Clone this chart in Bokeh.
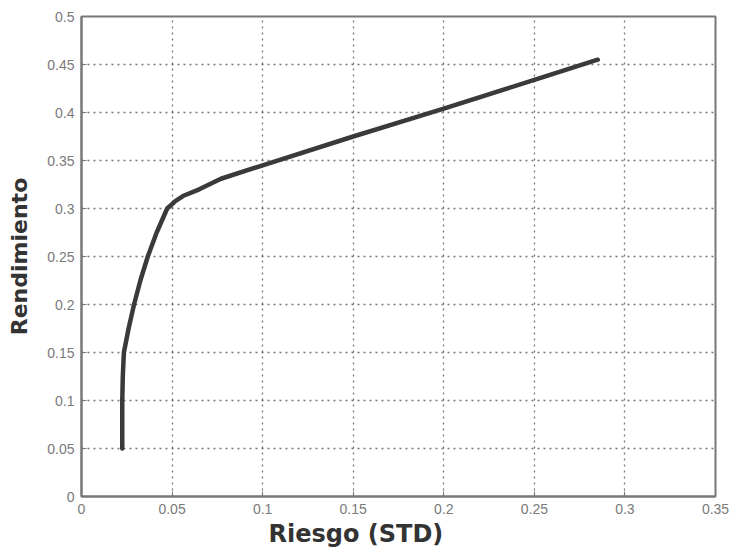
from bokeh.plotting import figure
from bokeh.models import Range1d, FixedTicker, Title
from bokeh.embed import file_html
from bokeh.resources import INLINE

# Efficient frontier (risk STD vs return)
riesgo = [0.0225, 0.0225, 0.0228, 0.0234, 0.0260, 0.0290, 0.0325, 0.0366, 0.0415,
          0.0473, 0.0520, 0.0560, 0.0650, 0.0770, 0.1000, 0.1500, 0.2000, 0.2500, 0.2850]
rendimiento = [0.050, 0.100, 0.125, 0.150, 0.175, 0.200, 0.225, 0.250, 0.275,
               0.300, 0.308, 0.313, 0.320, 0.331, 0.345, 0.375, 0.404, 0.434, 0.455]

x_ticks = [0, 0.05, 0.1, 0.15, 0.2, 0.25, 0.3, 0.35]
x_tick_labels = ["0", "0.05", "0.1", "0.15", "0.2", "0.25", "0.3", "0.35"]
y_ticks = [0, 0.05, 0.1, 0.15, 0.2, 0.25, 0.3, 0.35, 0.4, 0.45, 0.5]
y_tick_labels = ["0", "0.05", "0.1", "0.15", "0.2", "0.25", "0.3", "0.35", "0.4", "0.45", "0.5"]

x_title = "Riesgo (STD)"
y_title = "Rendimiento"

p = figure(width=730, height=550, output_backend="svg", toolbar_location=None,
           x_range=Range1d(0, 0.35), y_range=Range1d(0, 0.5),
           min_border_left=81, min_border_right=15, min_border_top=16, min_border_bottom=54)

p.line(riesgo, rendimiento, line_color="#3a3a3a", line_width=4.5, line_cap="round")

for ax in p.axis:
    ax.axis_line_color = "#777777"
    ax.axis_line_width = 2
    ax.major_tick_in = 5
    ax.major_tick_out = 0
    ax.major_tick_line_color = "#777777"
    ax.minor_tick_line_color = None
    ax.major_label_text_font = "Liberation Sans"
    ax.major_label_text_font_size = "14px"
    ax.major_label_text_color = "#7a7a7a"
    ax.major_label_standoff = 7

p.xaxis[0].ticker = FixedTicker(ticks=x_ticks)
p.xaxis[0].major_label_overrides = {t: l for t, l in zip(x_ticks, x_tick_labels)}
p.yaxis[0].ticker = FixedTicker(ticks=y_ticks)
p.yaxis[0].major_label_overrides = {t: l for t, l in zip(y_ticks, y_tick_labels)}

p.yaxis[0].axis_label = y_title
p.yaxis[0].axis_label_text_font = "DejaVu Sans"
p.yaxis[0].axis_label_text_font_size = "22px"
p.yaxis[0].axis_label_text_font_style = "bold"
p.yaxis[0].axis_label_text_color = "#333333"
p.yaxis[0].axis_label_standoff = 12

p.outline_line_color = "#777777"
p.outline_line_width = 2

p.xgrid[0].ticker = FixedTicker(ticks=x_ticks)
p.ygrid[0].ticker = FixedTicker(ticks=y_ticks)
for g in (p.xgrid[0], p.ygrid[0]):
    g.grid_line_color = "#555555"
    g.grid_line_dash = "2 4"
    g.grid_line_width = 1.3
    g.grid_line_alpha = 0.8

p.add_layout(Title(text=x_title, align="left", offset=187, standoff=2,
                   text_font="DejaVu Sans", text_font_size="24px", text_font_style="bold",
                   text_color="#333333"), "below")

open("out.html", "w").write(file_html(p, INLINE))
